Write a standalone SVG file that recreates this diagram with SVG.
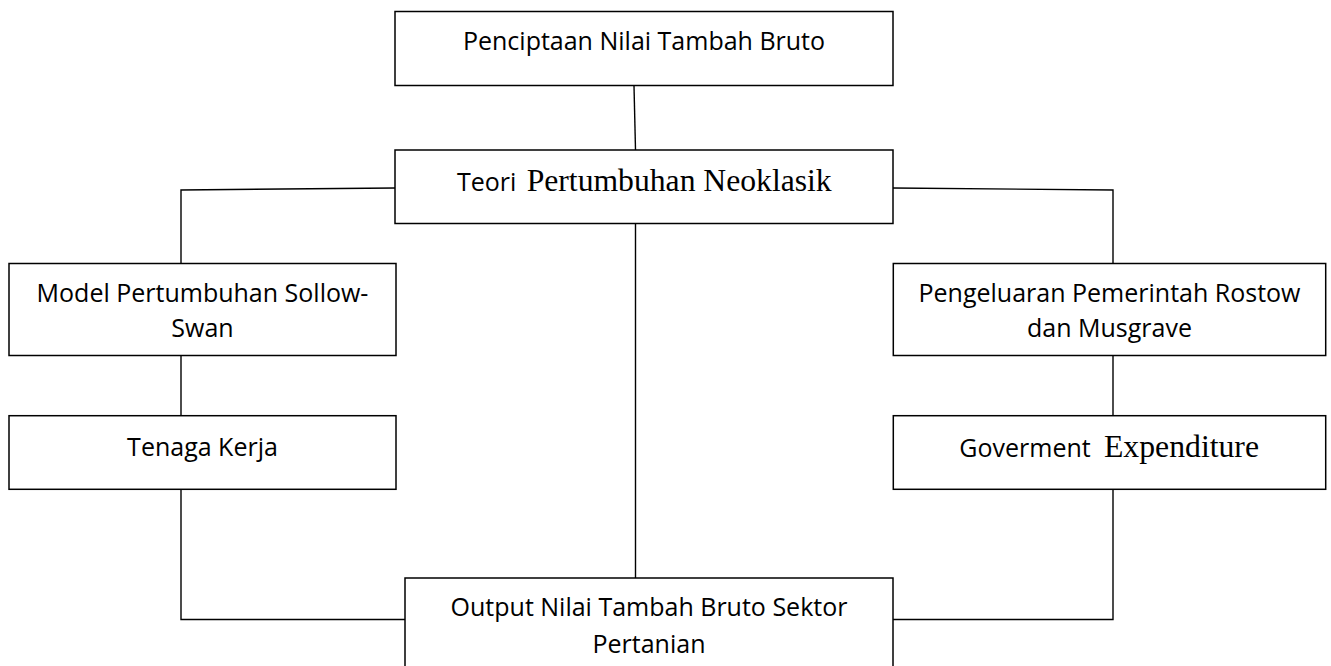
<svg xmlns="http://www.w3.org/2000/svg" width="1331" height="666" viewBox="0 0 1331 666">
<style>
.box{fill:#fff;stroke:#000;stroke-width:1.5}
.ln{fill:none;stroke:#000;stroke-width:1.4}
.t{font-family:"Open Sans","Noto Sans",sans-serif;font-size:25px;fill:#000;text-anchor:middle}
.s{font-family:"Open Sans","Noto Sans",sans-serif;font-size:25px;fill:#000}
.r{font-family:"Liberation Serif","Times New Roman",serif;font-size:32px;fill:#000}
</style>
<rect width="1331" height="666" fill="#fff"/>
<g id="connectors">
<line class="ln" x1="634" y1="86" x2="635.5" y2="150"/>
<polyline class="ln" points="395,188 181,190 181,263"/>
<polyline class="ln" points="893,188 1113,190 1113,263"/>
<line class="ln" x1="181" y1="356" x2="181" y2="416"/>
<line class="ln" x1="1113" y1="356" x2="1113" y2="416"/>
<polyline class="ln" points="181,489 181,619.5 405,619.5"/>
<polyline class="ln" points="1113,489 1113,619.5 893,619.5"/>
<line class="ln" x1="635.5" y1="223" x2="635.5" y2="578"/>
</g>
<g id="n1">
<rect class="box" x="395" y="11.5" width="498" height="74"/>
<text class="t" x="644" y="50">Penciptaan Nilai Tambah Bruto</text>
</g>
<g id="n2">
<rect class="box" x="395" y="150" width="498" height="73.5"/>
<text y="190.5"><tspan class="s" x="457">Teori</tspan><tspan class="r" x="526.7" textLength="305" lengthAdjust="spacingAndGlyphs">Pertumbuhan Neoklasik</tspan></text>
</g>
<g id="n3">
<rect class="box" x="9" y="263.5" width="387" height="92"/>
<text class="t" x="202.5" y="301.7">Model Pertumbuhan Sollow-</text>
<text class="t" x="202.5" y="337.3">Swan</text>
</g>
<g id="n4">
<rect class="box" x="893.3" y="263.5" width="432.4" height="92"/>
<text class="t" x="1109.5" y="301.7">Pengeluaran Pemerintah Rostow</text>
<text class="t" x="1109.5" y="337.3">dan Musgrave</text>
</g>
<g id="n5">
<rect class="box" x="9" y="415.7" width="387" height="73.6"/>
<text class="t" x="202.5" y="455.5">Tenaga Kerja</text>
</g>
<g id="n6">
<rect class="box" x="893.3" y="415.7" width="432.4" height="73.6"/>
<text y="456.5"><tspan class="s" x="959.3">Goverment</tspan><tspan class="r" x="1104" textLength="155" lengthAdjust="spacingAndGlyphs">Expenditure</tspan></text>
</g>
<g id="n7">
<rect class="box" x="405" y="578" width="488" height="200"/>
<text class="t" x="649" y="615.5">Output Nilai Tambah Bruto Sektor</text>
<text class="t" x="649" y="652.7">Pertanian</text>
</g>
</svg>
